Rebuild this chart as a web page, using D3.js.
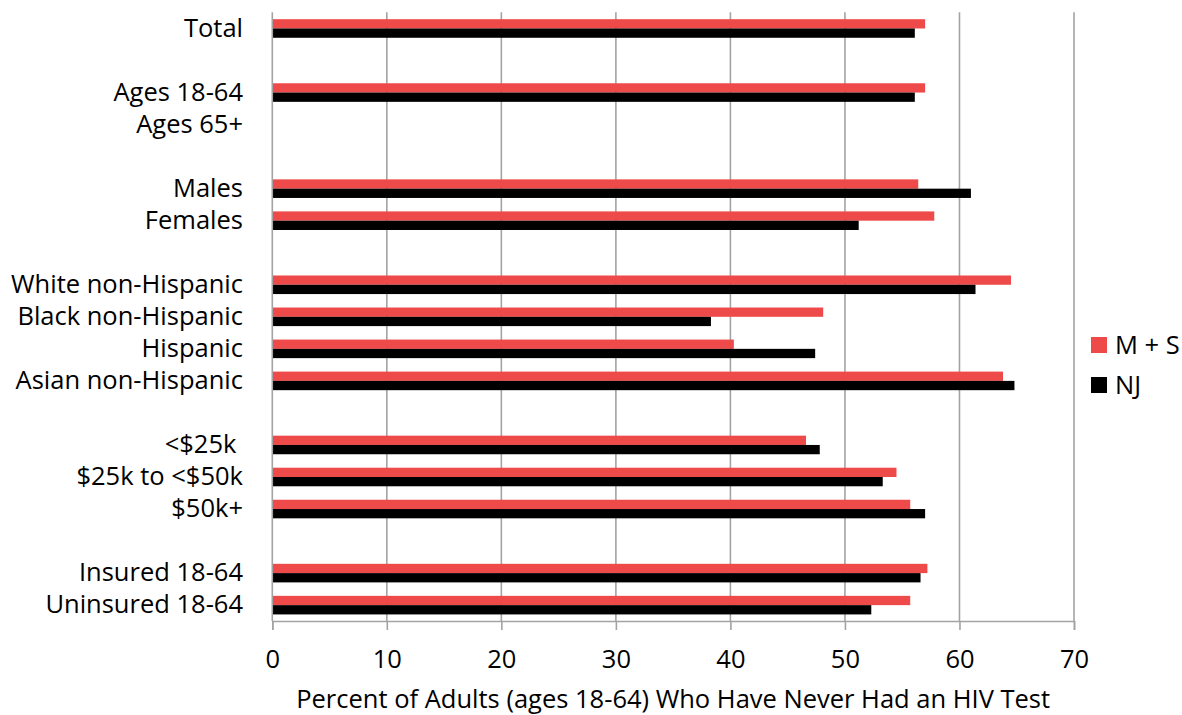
<!DOCTYPE html>
<html>
<head>
<meta charset="utf-8">
<script src="https://cdn.jsdelivr.net/npm/d3@7"></script>
<style>
  html, body { margin: 0; padding: 0; background: #fff; }
  svg { display: block; font-family: "Open Sans", sans-serif; }
</style>
</head>
<body>
<svg id="chart" width="1182" height="715"></svg>
<script>
// Data (blank strings are spacer rows)
const categories = ["Total", "", "Ages 18-64", "Ages 65+", "", "Males", "Females", "",
  "White non-Hispanic", "Black non-Hispanic", "Hispanic", "Asian non-Hispanic", "",
  "<$25k ", "$25k to <$50k", "$50k+", "", "Insured 18-64", "Uninsured 18-64"];
const seriesNames = ["M + S", "NJ"];
const msValues = [57.0, null, 57.0, null, null, 56.4, 57.8, null,
  64.5, 48.1, 40.3, 63.8, null, 46.6, 54.5, 55.7, null, 57.2, 55.7];
const njValues = [56.1, null, 56.1, null, null, 61.0, 51.2, null,
  61.4, 38.3, 47.4, 64.8, null, 47.8, 53.3, 57.0, null, 56.6, 52.3];
const xTicks = [0, 10, 20, 30, 40, 50, 60, 70];
const xTitle = "Percent of Adults (ages 18-64) Who Have Never Had an HIV Test";
const colors = { "M + S": "#ef4a4a", "NJ": "#000000" };

const svg = d3.select("#chart");
const pLeft = 272.3, pRight = 1074, pTop = 12.3, pBottom = 621;
const fs = 25.5;

const x = d3.scaleLinear().domain([0, 70]).range([pLeft, pRight]);
const y = d3.scaleBand().domain(d3.range(categories.length)).range([pTop, pBottom]).padding(0);
const inner = d3.scaleBand().domain(seriesNames)
  .range([y.bandwidth() * 0.215, y.bandwidth() * 0.795]).padding(0);

const gridColor = "#a3a3a3";

// gridlines
svg.append("g").selectAll("line").data(xTicks.filter(d => d > 0)).join("line")
  .attr("x1", d => x(d)).attr("x2", d => x(d))
  .attr("y1", pTop).attr("y2", pBottom)
  .attr("stroke", gridColor).attr("stroke-width", 1.6);

// rows
const rows = categories.map((c, i) => ({ i, c, vals: [
  { s: "M + S", v: msValues[i] }, { s: "NJ", v: njValues[i] }] }));

const rowG = svg.append("g").selectAll("g").data(rows).join("g")
  .attr("transform", d => `translate(0,${y(d.i)})`);

rowG.selectAll("rect").data(d => d.vals.filter(e => e.v != null)).join("rect")
  .attr("x", x(0))
  .attr("y", d => inner(d.s))
  .attr("width", d => x(d.v) - x(0))
  .attr("height", inner.bandwidth())
  .attr("fill", d => colors[d.s]);

// category labels
svg.append("g").selectAll("text").data(rows.filter(d => d.c.trim() !== "")).join("text")
  .attr("x", 243)
  .attr("y", d => y(d.i) + y.bandwidth() / 2)
  .attr("dy", "0.33em")
  .attr("text-anchor", "end")
  .attr("font-size", fs)
  .attr("fill", "#000")
  .style("white-space", "pre")
  .text(d => d.c);

// left axis line
svg.append("line")
  .attr("x1", x(0)).attr("x2", x(0)).attr("y1", pTop).attr("y2", pBottom)
  .attr("stroke", gridColor).attr("stroke-width", 1.6);

// bottom axis
const xAxis = d3.axisBottom(x).tickValues(xTicks).tickSize(9).tickPadding(20)
  .tickFormat(d3.format("d"));
const axG = svg.append("g").attr("transform", `translate(0,${pBottom})`).call(xAxis);
axG.select(".domain").attr("stroke", gridColor).attr("stroke-width", 1.6);
axG.selectAll(".tick line").attr("stroke", gridColor).attr("stroke-width", 1.6);
axG.selectAll(".tick text").attr("font-size", fs).attr("fill", "#000")
  .attr("font-family", "'Open Sans', sans-serif");

// axis title
svg.append("text")
  .attr("x", (pLeft + pRight) / 2).attr("y", 708)
  .attr("text-anchor", "middle").attr("font-size", fs).attr("fill", "#000")
  .text(xTitle);

// legend
const legend = svg.append("g").attr("transform", "translate(1091,337)");
const lg = legend.selectAll("g").data(seriesNames).join("g")
  .attr("transform", (d, i) => `translate(0,${i * 40})`);
lg.append("rect").attr("width", 16).attr("height", 16).attr("fill", d => colors[d]);
lg.append("text").attr("x", 24).attr("y", 8).attr("dy", "0.35em")
  .attr("font-size", fs).attr("fill", "#000").text(d => d);
</script>
</body>
</html>
